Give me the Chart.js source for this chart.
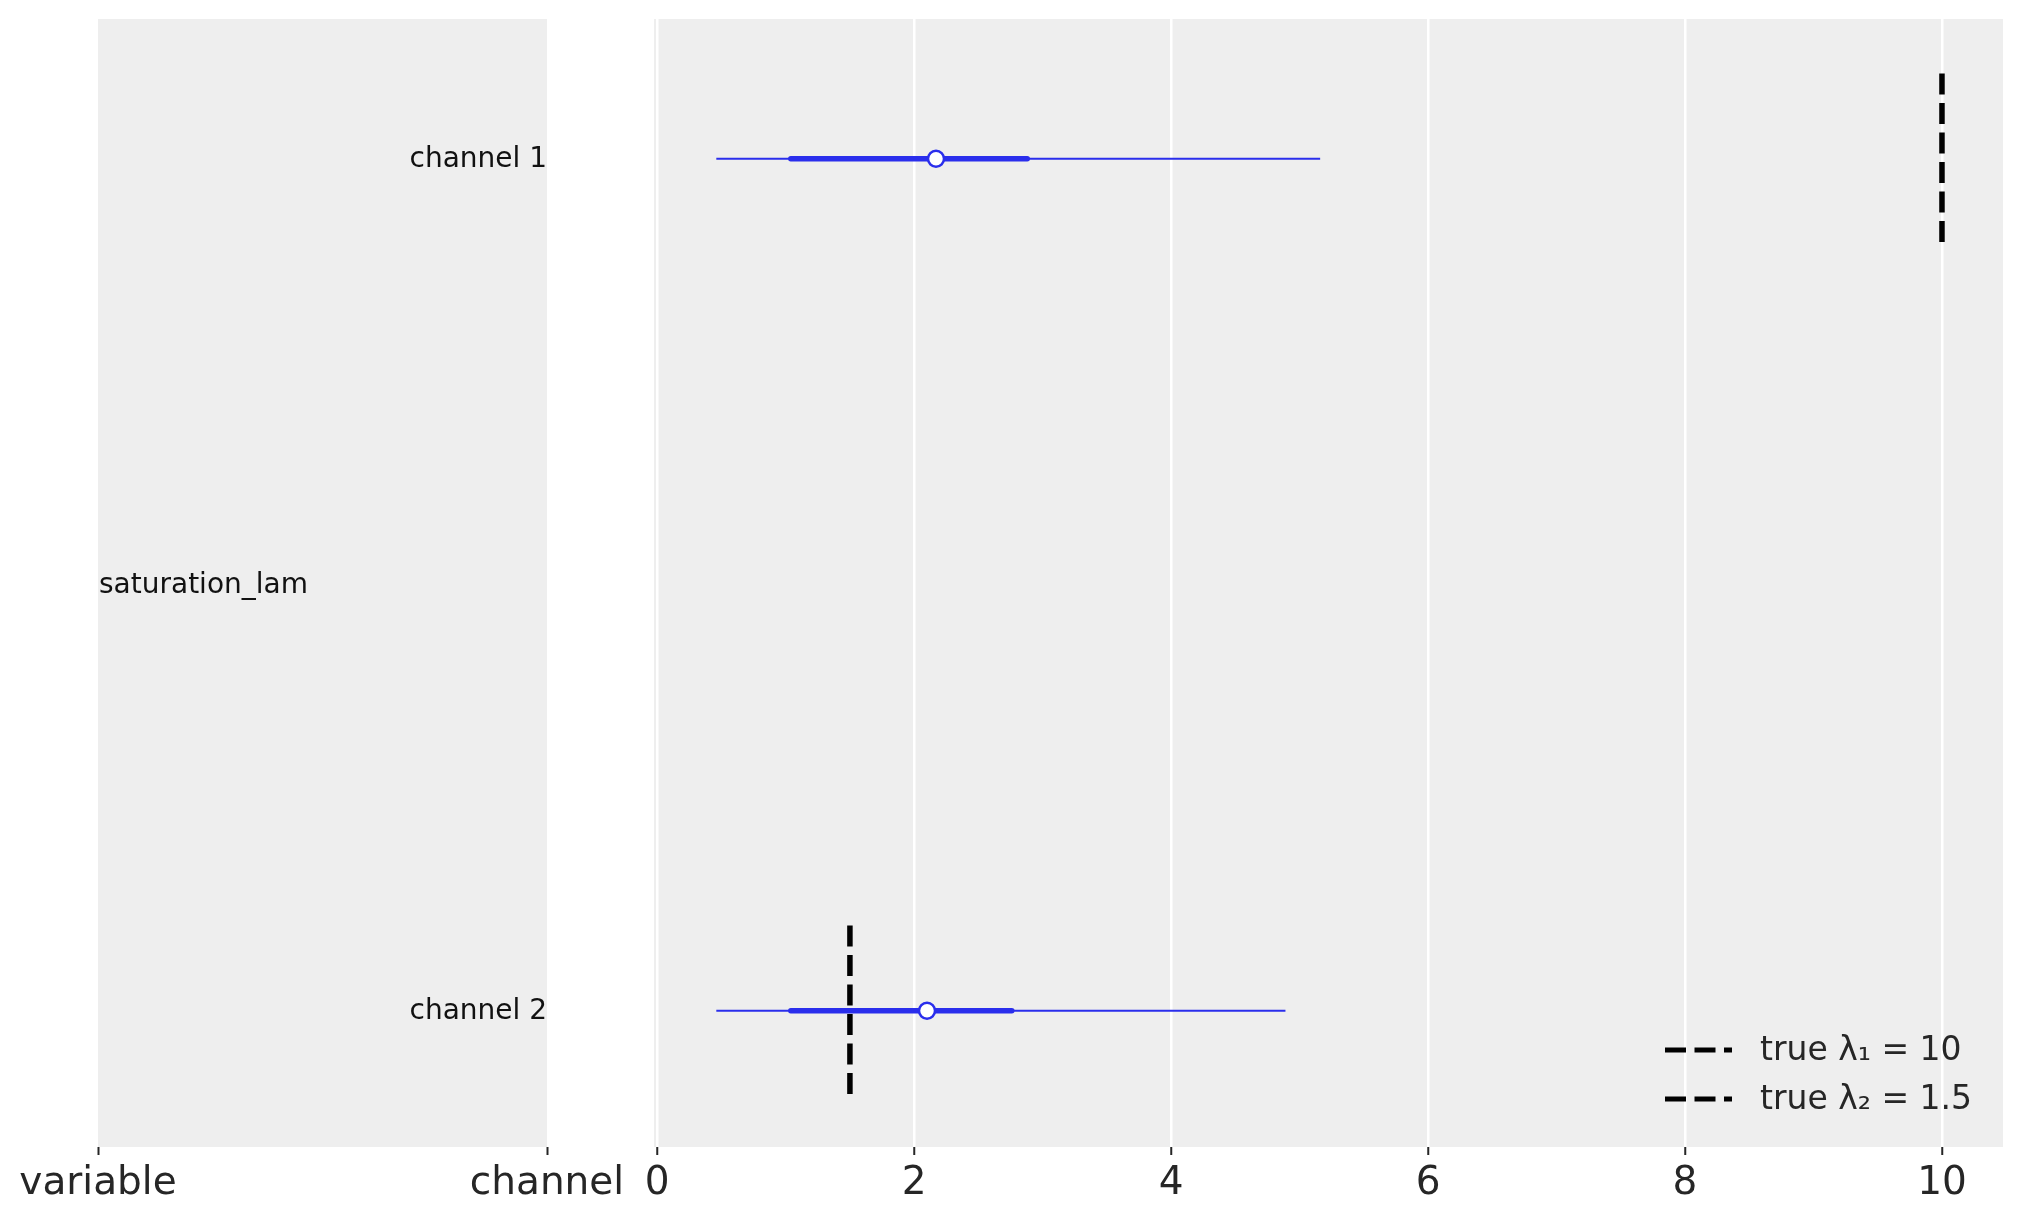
<!DOCTYPE html>
<html>
<head>
<meta charset="utf-8">
<script src="https://cdn.jsdelivr.net/npm/chart.js@4.4.0/dist/chart.umd.min.js"></script>
<style>
  html, body { margin: 0; padding: 0; background: #ffffff; }
  .wrap { position: relative; width: 2023px; height: 1223px; }
  .wrap canvas { position: absolute; left: 0; top: 0; }
</style>
</head>
<body>
<div class="wrap">
  <canvas id="labelsChart" width="2023" height="1223"></canvas>
  <canvas id="forestChart" width="2023" height="1223"></canvas>
</div>
<script>
// dados
const variableName = 'saturation_lam';
const channels = ['channel 1', 'channel 2'];
const channelPos = [1, 0];
const hdiLow = [0.46, 0.46];
const hdiHigh = [5.16, 4.89];
const iqrLow = [1.04, 1.04];
const iqrHigh = [2.88, 2.76];
const medians = [2.17, 2.10];
const trueLam = [10, 1.5];
const lamSubs = ['\u2081', '\u2082'];
const xTicks = [0, 2, 4, 6, 8, 10];
const leftTickLabels = ['variable', 'channel'];

const BLUE = '#2a2eec';
const PANEL = '#eeeeee';
const TEXT = '#262626';
const FONT = "'DejaVu Sans', sans-serif";
const TRUE_HALF = 0.1;
const Y_MIN = -0.16, Y_MAX = 1.164;

// fundo cinza da área do gráfico
const panelBg = {
    id: 'panelBg',
    beforeDraw(chart) {
        const { ctx, chartArea: a } = chart;
        ctx.save();
        ctx.fillStyle = PANEL;
        ctx.fillRect(a.left, a.top, a.right - a.left, a.bottom - a.top);
        ctx.restore();
    }
};

// rótulos das linhas no painel da esquerda
const rowLabels = {
    id: 'rowLabels',
    afterDraw(chart) {
        const { ctx, scales } = chart;
        ctx.save();
        ctx.fillStyle = '#111111';
        ctx.font = '28px ' + FONT;
        ctx.textBaseline = 'middle';
        ctx.textAlign = 'left';
        ctx.fillText(variableName, scales.x.getPixelForValue(0) + 1, scales.y.getPixelForValue(0.5) + 1);
        ctx.textAlign = 'right';
        channels.forEach((c, i) => {
            ctx.fillText(c, scales.x.getPixelForValue(1), scales.y.getPixelForValue(channelPos[i]) + 1);
        });
        ctx.restore();
    }
};

// legenda com linhas tracejadas no canto inferior direito
const dashLegend = {
    id: 'dashLegend',
    afterDraw(chart) {
        const { ctx, chartArea: a } = chart;
        const x0 = a.right - 338;
        ctx.save();
        ctx.font = '33px ' + FONT;
        ctx.textBaseline = 'middle';
        ctx.textAlign = 'left';
        trueLam.forEach((v, i) => {
            const y = a.bottom - 97 + i * 49;
            ctx.strokeStyle = '#000000';
            ctx.lineWidth = 5;
            ctx.lineCap = 'butt';
            ctx.setLineDash([21, 8.5]);
            ctx.beginPath();
            ctx.moveTo(x0, y);
            ctx.lineTo(x0 + 67, y);
            ctx.stroke();
            ctx.setLineDash([]);
            ctx.fillStyle = TEXT;
            ctx.fillText(`true \u03bb${lamSubs[i]} = ${v}`, x0 + 95, y + 1);
        });
        ctx.restore();
    }
};

const fixedXHeight = function (scale) { scale.height = 76; };

const yScale = {
    type: 'linear',
    min: Y_MIN,
    max: Y_MAX,
    display: false
};

// painel da esquerda: variable / channel
new Chart(document.getElementById('labelsChart'), {
    type: 'scatter',
    data: { datasets: [{ data: [] }] },
    options: {
        responsive: false,
        devicePixelRatio: 1,
        animation: false,
        layout: { padding: { left: 98, right: 2023 - 547, top: 19, bottom: 0 } },
        plugins: { legend: { display: false }, tooltip: { enabled: false } },
        scales: {
            x: {
                type: 'linear',
                min: 0,
                max: 1,
                afterFit: fixedXHeight,
                afterBuildTicks: (scale) => { scale.ticks = [{ value: 0 }, { value: 1 }]; },
                border: { display: false },
                grid: { drawOnChartArea: false, tickColor: TEXT, tickWidth: 2, tickLength: 8 },
                ticks: {
                    color: TEXT,
                    font: { family: FONT, size: 39 },
                    padding: 5,
                    maxRotation: 0,
                    autoSkip: false,
                    callback: (v) => leftTickLabels[v]
                }
            },
            y: yScale
        }
    },
    plugins: [panelBg, rowLabels]
});

// painel principal: forest plot
const datasets = [];
channels.forEach((c, i) => {
    const y = channelPos[i];
    datasets.push({
        label: c + ' hdi',
        data: [{ x: hdiLow[i], y: y }, { x: hdiHigh[i], y: y }],
        borderColor: BLUE,
        borderWidth: 2,
        borderCapStyle: 'butt',
        pointRadius: 0,
        order: 3
    });
    datasets.push({
        label: c + ' iqr',
        data: [{ x: iqrLow[i], y: y }, { x: iqrHigh[i], y: y }],
        borderColor: BLUE,
        borderWidth: 5.5,
        borderCapStyle: 'round',
        pointRadius: 0,
        order: 2
    });
    datasets.push({
        label: c + ' median',
        data: [{ x: medians[i], y: y }],
        showLine: false,
        pointRadius: 8,
        pointBorderWidth: 2.5,
        pointBackgroundColor: '#ffffff',
        pointBorderColor: BLUE,
        order: 0
    });
    datasets.push({
        label: `true \u03bb${lamSubs[i]} = ${trueLam[i]}`,
        data: [{ x: trueLam[i], y: y + TRUE_HALF }, { x: trueLam[i], y: y - TRUE_HALF }],
        borderColor: '#000000',
        borderWidth: 5.5,
        borderDash: [21, 8.5],
        borderCapStyle: 'butt',
        pointRadius: 0,
        order: 1
    });
});

new Chart(document.getElementById('forestChart'), {
    type: 'line',
    data: { datasets: datasets },
    options: {
        responsive: false,
        devicePixelRatio: 1,
        animation: false,
        layout: { padding: { left: 654, right: 20, top: 19, bottom: 0 } },
        plugins: { legend: { display: false }, tooltip: { enabled: false } },
        scales: {
            x: {
                type: 'linear',
                min: -0.025,
                max: 10.475,
                afterFit: fixedXHeight,
                afterBuildTicks: (scale) => { scale.ticks = xTicks.map(v => ({ value: v })); },
                border: { display: false },
                grid: { color: '#ffffff', lineWidth: 2.5, tickColor: TEXT, tickWidth: 2, tickLength: 8 },
                ticks: {
                    color: TEXT,
                    font: { family: FONT, size: 39 },
                    padding: 5,
                    maxRotation: 0,
                    autoSkip: false
                }
            },
            y: yScale
        }
    },
    plugins: [panelBg, dashLegend]
});
</script>
</body>
</html>
